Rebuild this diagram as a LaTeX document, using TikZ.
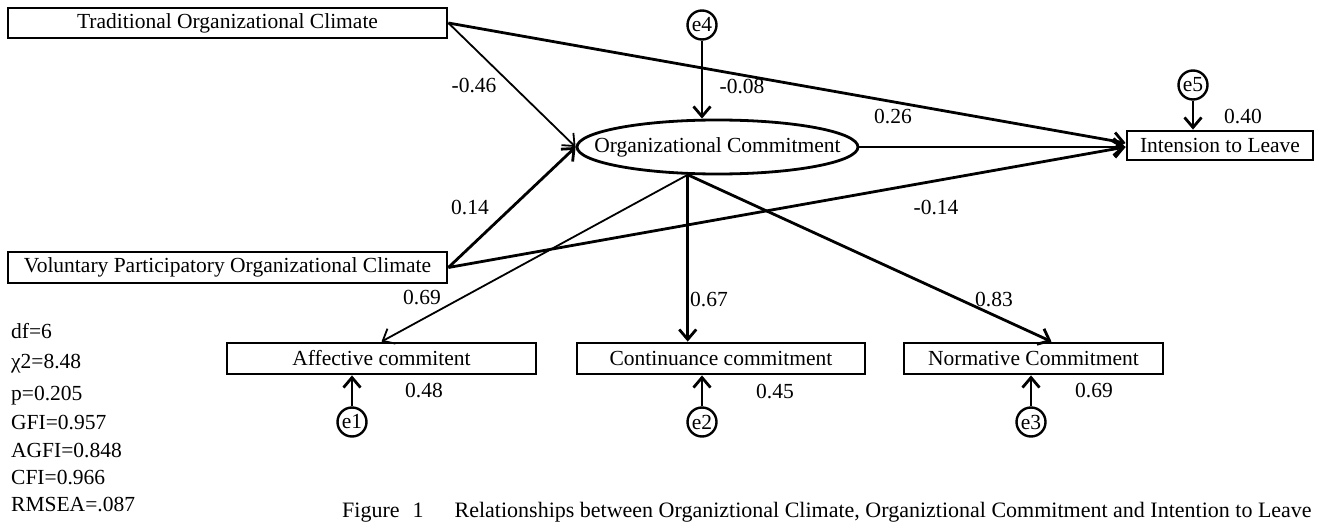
\documentclass[tikz,border=0pt]{standalone}
\usepackage{fontspec}
\setmainfont{Liberation Serif}
\usetikzlibrary{arrows.meta,shapes.geometric,calc}
\begin{document}
\begin{tikzpicture}[x=1pt,y=-1pt,
  font=\fontsize{21.5pt}{25pt}\selectfont,
  box/.style={draw,line width=2.8pt,inner sep=0pt,minimum height=30pt},
  err/.style={draw,circle,line width=2.4pt,inner sep=0pt,minimum size=29pt},
  lbl/.style={inner sep=0pt},
  stat/.style={inner sep=0pt,anchor=base west},
  thk/.style={line width=2.8pt,-{Straight Barb[length=10pt,width=17pt]}},
  thn/.style={line width=1.8pt,-{Straight Barb[length=10pt,width=17pt]}},
]
\useasboundingbox (0,0) rectangle (1320,524);

% main nodes
\node[box,minimum width=439pt] (trad) at (227.5,23) {Traditional Organizational Climate};
\node[box,minimum width=439pt,minimum height=31pt] (vol) at (227.5,267.5) {Voluntary Participatory Organizational Climate};
\node[draw,ellipse,line width=2.8pt,minimum width=281pt,minimum height=54pt,inner sep=0pt,
      label={center:Organizational Commitment}] (oc) at (717.5,147) {};
\node[box,minimum width=186pt,minimum height=29pt] (itl) at (1220,145.5) {Intension to Leave};
\node[box,minimum width=309pt,minimum height=31pt] (aff) at (381.5,358.5) {Affective commitent};
\node[box,minimum width=288pt,minimum height=31pt] (cont) at (721,358.5) {Continuance commitment};
\node[box,minimum width=259pt,minimum height=31pt] (norm) at (1033.5,358.5) {Normative Commitment};

% error terms
\node[err] (e4) at (702,25) {e4};
\node[err] (e5) at (1193,85) {e5};
\node[err] (e1) at (352,422) {e1};
\node[err] (e2) at (702,422) {e2};
\node[err] (e3) at (1031,422) {e3};

% connectors
\coordinate (ocb) at (oc.223);
\draw[thn] (trad.east) -- (oc.west);
\draw[thk] (trad.east) -- ([yshift=2.5pt]itl.west);
\draw[thk] (vol.east) -- (oc.west);
\draw[thk] (vol.east) -- ([yshift=-1.5pt]itl.west);
\draw[thk] (oc.east) -- (oc.east -| itl.west);
\draw[thk] (e4) -- (e4 |- oc.north);
\draw[thk] (e5) -- (e5 |- itl.north);
\draw[thn] (ocb) -- (aff.north);
\draw[thk] (ocb) -- (ocb |- cont.north);
\draw[thk] (ocb) -- ([xshift=18pt]norm.north);
\draw[thk] (e1) -- (e1 |- aff.south);
\draw[thk] (e2) -- (e2 |- cont.south);
\draw[thk] (e3) -- (e3 |- norm.south);

% path labels
\node[lbl] (l1) at (474,86) {-0.46};
\node[lbl] (l2) at (742,87) {-0.08};
\node[lbl] (l3) at (893,117) {0.26};
\node[lbl] (l4) at (1243,117) {0.40};
\node[lbl] (l5) at (470,208) {0.14};
\node[lbl] (l6) at (936,208) {-0.14};
\node[lbl] (l7) at (422,298) {0.69};
\node[lbl] (l8) at (709,300) {0.67};
\node[lbl] (l9) at (994,300) {0.83};
\node[lbl] (l10) at (424,391) {0.48};
\node[lbl] (l11) at (775,392) {0.45};
\node[lbl] (l12) at (1094,391) {0.69};

% fit statistics
\node[stat] (s1) at (11,338) {df=6};
\node[stat] (s2) at (11,368) {χ2=8.48};
\node[stat] (s3) at (11,400) {p=0.205};
\node[stat] (s4) at (11,429) {GFI=0.957};
\node[stat] (s5) at (11,457) {AGFI=0.848};
\node[stat] (s6) at (11,484) {CFI=0.966};
\node[stat] (s7) at (11,511) {RMSEA=.087};

% caption
\node[stat,font=\fontsize{22pt}{26pt}\selectfont] (cap) at (342,517) {Figure\hspace{13pt}1\hspace{31pt}Relationships between Organiztional Climate, Organiztional Commitment and Intention to Leave};
\end{tikzpicture}
\end{document}
